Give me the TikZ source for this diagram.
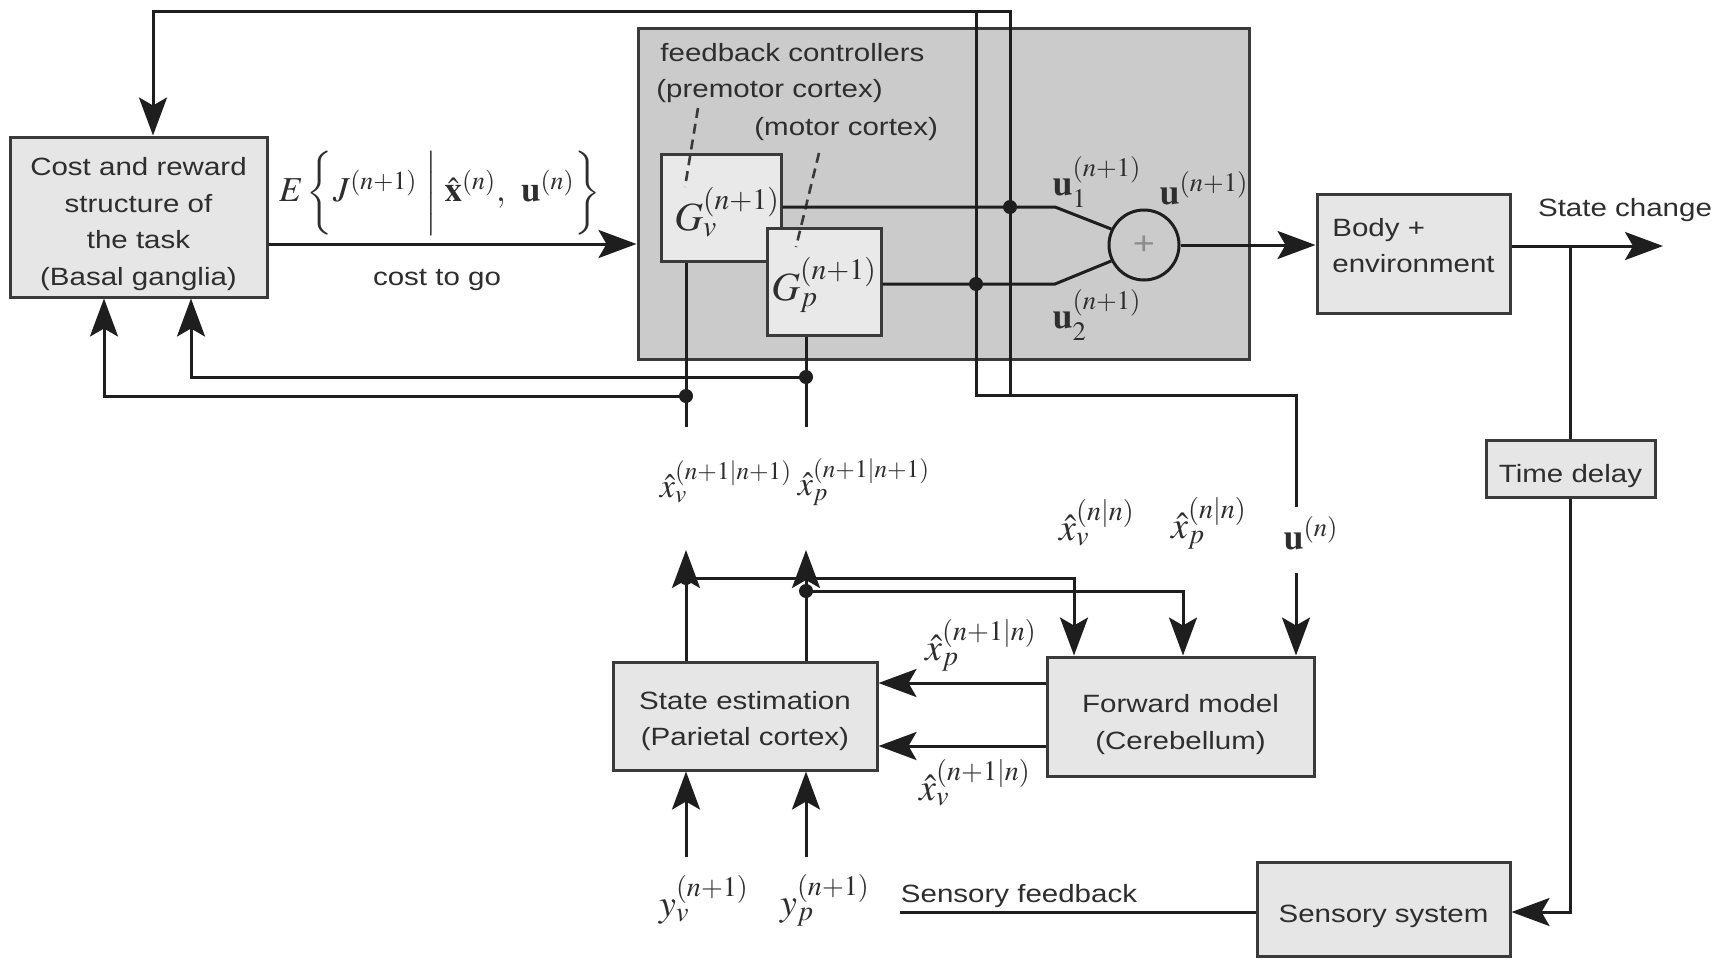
\documentclass[tikz,border=0pt]{standalone}
\usepackage{amsmath}
\usepackage{mathptmx}
\usepackage[no-math]{fontspec}
\setmainfont{Liberation Sans}[FakeStretch=1.18]
\usetikzlibrary{arrows.meta,calc}
\definecolor{lc}{HTML}{1E1E1E}
\definecolor{bc}{HTML}{3A3A3A}
\definecolor{tc}{HTML}{2E2E2E}
\definecolor{boxfill}{HTML}{E6E6E6}
\definecolor{gfill}{HTML}{E9E9E9}
\definecolor{bigfill}{HTML}{CBCBCB}
\newcommand\msz[1]{\fontsize{#1}{#1}\selectfont}
\begin{document}
\begin{tikzpicture}[x=0.5pt,y=-0.5pt,
  ln/.style={draw=lc,line width=1.5pt},
  arr/.style={ln,-{Stealth[length=19pt,width=14pt,inset=4pt]}},
  blk/.style={draw=bc,line width=1.5pt,fill=boxfill,inner sep=0pt},
  lbl/.style={inner sep=0pt,text=tc,align=center,font={\fontsize{12.5}{18.3}\selectfont}},
  mlbl/.style={inner sep=0pt,text=tc},
  dotn/.style={circle,fill=lc,inner sep=0pt,minimum size=7pt},
  leader/.style={draw=bc,line width=1.3pt,dash pattern=on 5pt off 3pt}
]
\useasboundingbox[fill=white] (0,0) rectangle (1733,958);

% big controller box
\node[blk,fill=bigfill,minimum width=305.5pt,minimum height=165.5pt] (fb) at (943.5,193.5) {};

% blocks
\node[blk,minimum width=128.5pt,minimum height=80pt] (cost) at (138.5,217) {};
\node[lbl] (costt) at (138.5,224) {Cost and reward\\structure of\\the task\\(Basal ganglia)};
\node[blk,fill=gfill,minimum width=60pt,minimum height=53.5pt] (Gv) at (721,207.5) {};
\node[blk,fill=gfill,minimum width=57pt,minimum height=53.5pt] (Gp) at (824,281.5) {};
\node[circle,draw=lc,line width=1.5pt,minimum size=35pt,inner sep=0pt,text=black!45] (sum) at (1144,245) {\msz{16}+};
\node[blk,minimum width=96.5pt,minimum height=59.5pt] (body) at (1413.5,253.5) {};
\node[lbl,align=left] (bodyt) at (1413.5,245.5) {Body +\\environment};
\node[blk,minimum width=84.5pt,minimum height=28.5pt] (delay) at (1570.5,468.5) {};
\node[lbl] (delayt) at (1570.5,476.5) {Time delay};
\node[blk,minimum width=126.5pt,minimum height=47pt] (sens) at (1383.5,909) {};
\node[lbl] (senst) at (1383.5,916) {Sensory system};
\node[blk,minimum width=132pt,minimum height=54pt] (est) at (745,716) {};
\node[lbl] (estt) at (745,721) {State estimation\\(Parietal cortex)};
\node[blk,minimum width=133.5pt,minimum height=59.5pt] (fwd) at (1180.5,716.5) {};
\node[lbl] (fwdt) at (1180.5,724.5) {Forward model\\(Cerebellum)};

% G labels
\node[mlbl] (Gvl) at (727,212) {\msz{20}$G_v^{(n+1)}$};
\node[mlbl] (Gpl) at (824,285) {\msz{20}$G_p^{(n+1)}$};

% text labels in controller box
\node[lbl,anchor=west] (fbc) at (660,53) {feedback controllers};
\node[lbl,anchor=west] (pmc) at (656,91) {(premotor cortex)};
\node[lbl,anchor=west] (mc) at (754,129) {(motor cortex)};
\coordinate (pm1) at (698,108); \coordinate (pm2) at (685,187);
\coordinate (m1) at (819,153); \coordinate (m2) at (796,247);
\draw[leader] (pm1) -- (pm2);
\draw[leader] (m1) -- (m2);

% dots
\node[dotn] (d1) at (1010,207) {};
\node[dotn] (d2) at (976,284) {};
\node[dotn] (d3) at (686,578) {};
\node[dotn] (d4) at (806,591) {};
\node[dotn] (d5) at (686,396) {};
\node[dotn] (d6) at (806,377) {};

% cost to go
\draw[arr] (cost.east |- 0,244) -- (fb.west |- 0,244);
\node[mlbl] (Eform) at (440,193) {\msz{17.5}$E\left\{\rule[-15pt]{0pt}{36pt}J^{(n+1)}\;\middle|\;\hat{\mathbf{x}}^{(n)},\ \mathbf{u}^{(n)}\right\}$};
\node[lbl] (ctg) at (437,280) {cost to go};

% controller outputs
\draw[ln] (Gv.east |- d1) -- (1055,207) -- (sum.154);
\draw[ln] (Gp.east |- d2) -- (1055,284) -- (sum.206);
\node[mlbl] (u1) at (1097,182) {\msz{18}$\mathbf{u}_1^{(n+1)}$};
\node[mlbl] (u2) at (1097,315) {\msz{18}$\mathbf{u}_2^{(n+1)}$};
\node[mlbl] (uu) at (1204,188) {\msz{18}$\mathbf{u}^{(n+1)}$};

% top loop
\coordinate (t1) at (1010,11);
\coordinate (t2) at (976,11);
\draw[ln] (d1.center) -- (1010,395);
\draw[arr] (d1.center) -- (t1) -- (153,11) -- (cost.north -| 153,0);
\draw[ln] (t2) -- (976,395) -- (1296,395) -- (1296,507);
\node[mlbl] (un) at (1311,533) {\msz{18}$\mathbf{u}^{(n)}$};
\draw[arr] (1296,573) -- (fwd.north -| 1296,0);

% plant
\draw[arr] (sum.east) -- (body.west |- sum.east);
\coordinate (sc) at (1663,246);
\coordinate (br) at (1570,246);
\draw[arr] (body.east |- sc) -- (sc);
\node[lbl] (sclbl) at (1625,210) {State change};
\draw[ln] (br) -- (br |- delay.north);
\draw[arr] (br |- delay.south) -- (1570,912) -- (sens.east |- 0,912);
\coordinate (sfe) at (900,912);
\draw[ln] (sens.west |- sfe) -- (sfe);
\node[lbl] (sflbl) at (1019,896) {Sensory feedback};

% forward model to state estimation
\draw[arr] (fwd.west |- 0,683) -- (est.east |- 0,683);
\draw[arr] (fwd.west |- 0,746) -- (est.east |- 0,746);
\node[mlbl] (xp1) at (981,645) {\msz{19}$\hat{x}_p^{(n+1|n)}$};
\node[mlbl] (xv1) at (975,783) {\msz{19}$\hat{x}_v^{(n+1|n)}$};

% state estimation outputs
\draw[arr] (est.north -| d3) -- (686,550);
\draw[arr] (est.north -| d4) -- (806,550);
\draw[arr] (d3.center) -- (1074,578) -- (fwd.north -| 1074,0);
\draw[arr] (d4.center) -- (1183,591) -- (fwd.north -| 1183,0);
\node[mlbl] (xvn) at (726,482) {\msz{17}$\hat{x}_v^{(n+1|n+1)}$};
\node[mlbl] (xpn) at (864,482) {\msz{17}$\hat{x}_p^{(n+1|n+1)}$};
\node[mlbl] (xvnn) at (1097,523) {\msz{19}$\hat{x}_v^{(n|n)}$};
\node[mlbl] (xpnn) at (1209,523) {\msz{19}$\hat{x}_p^{(n|n)}$};

% sensory inputs
\draw[arr] (686,857) -- (est.south -| 686,0);
\draw[arr] (806,857) -- (est.south -| 806,0);
\node[mlbl] (yv) at (704,900) {\msz{19}$y_v^{(n+1)}$};
\node[mlbl] (yp) at (825,900) {\msz{19}$y_p^{(n+1)}$};

% controller inputs and feedback to cost box
\draw[ln] (Gv.south -| d5) -- (686,427);
\draw[ln] (Gp.south -| d6) -- (806,427);
\draw[arr] (d5.center) -- (104,396) -- (cost.south -| 104,0);
\draw[arr] (d6.center) -- (191,377) -- (cost.south -| 191,0);
\end{tikzpicture}
\end{document}
